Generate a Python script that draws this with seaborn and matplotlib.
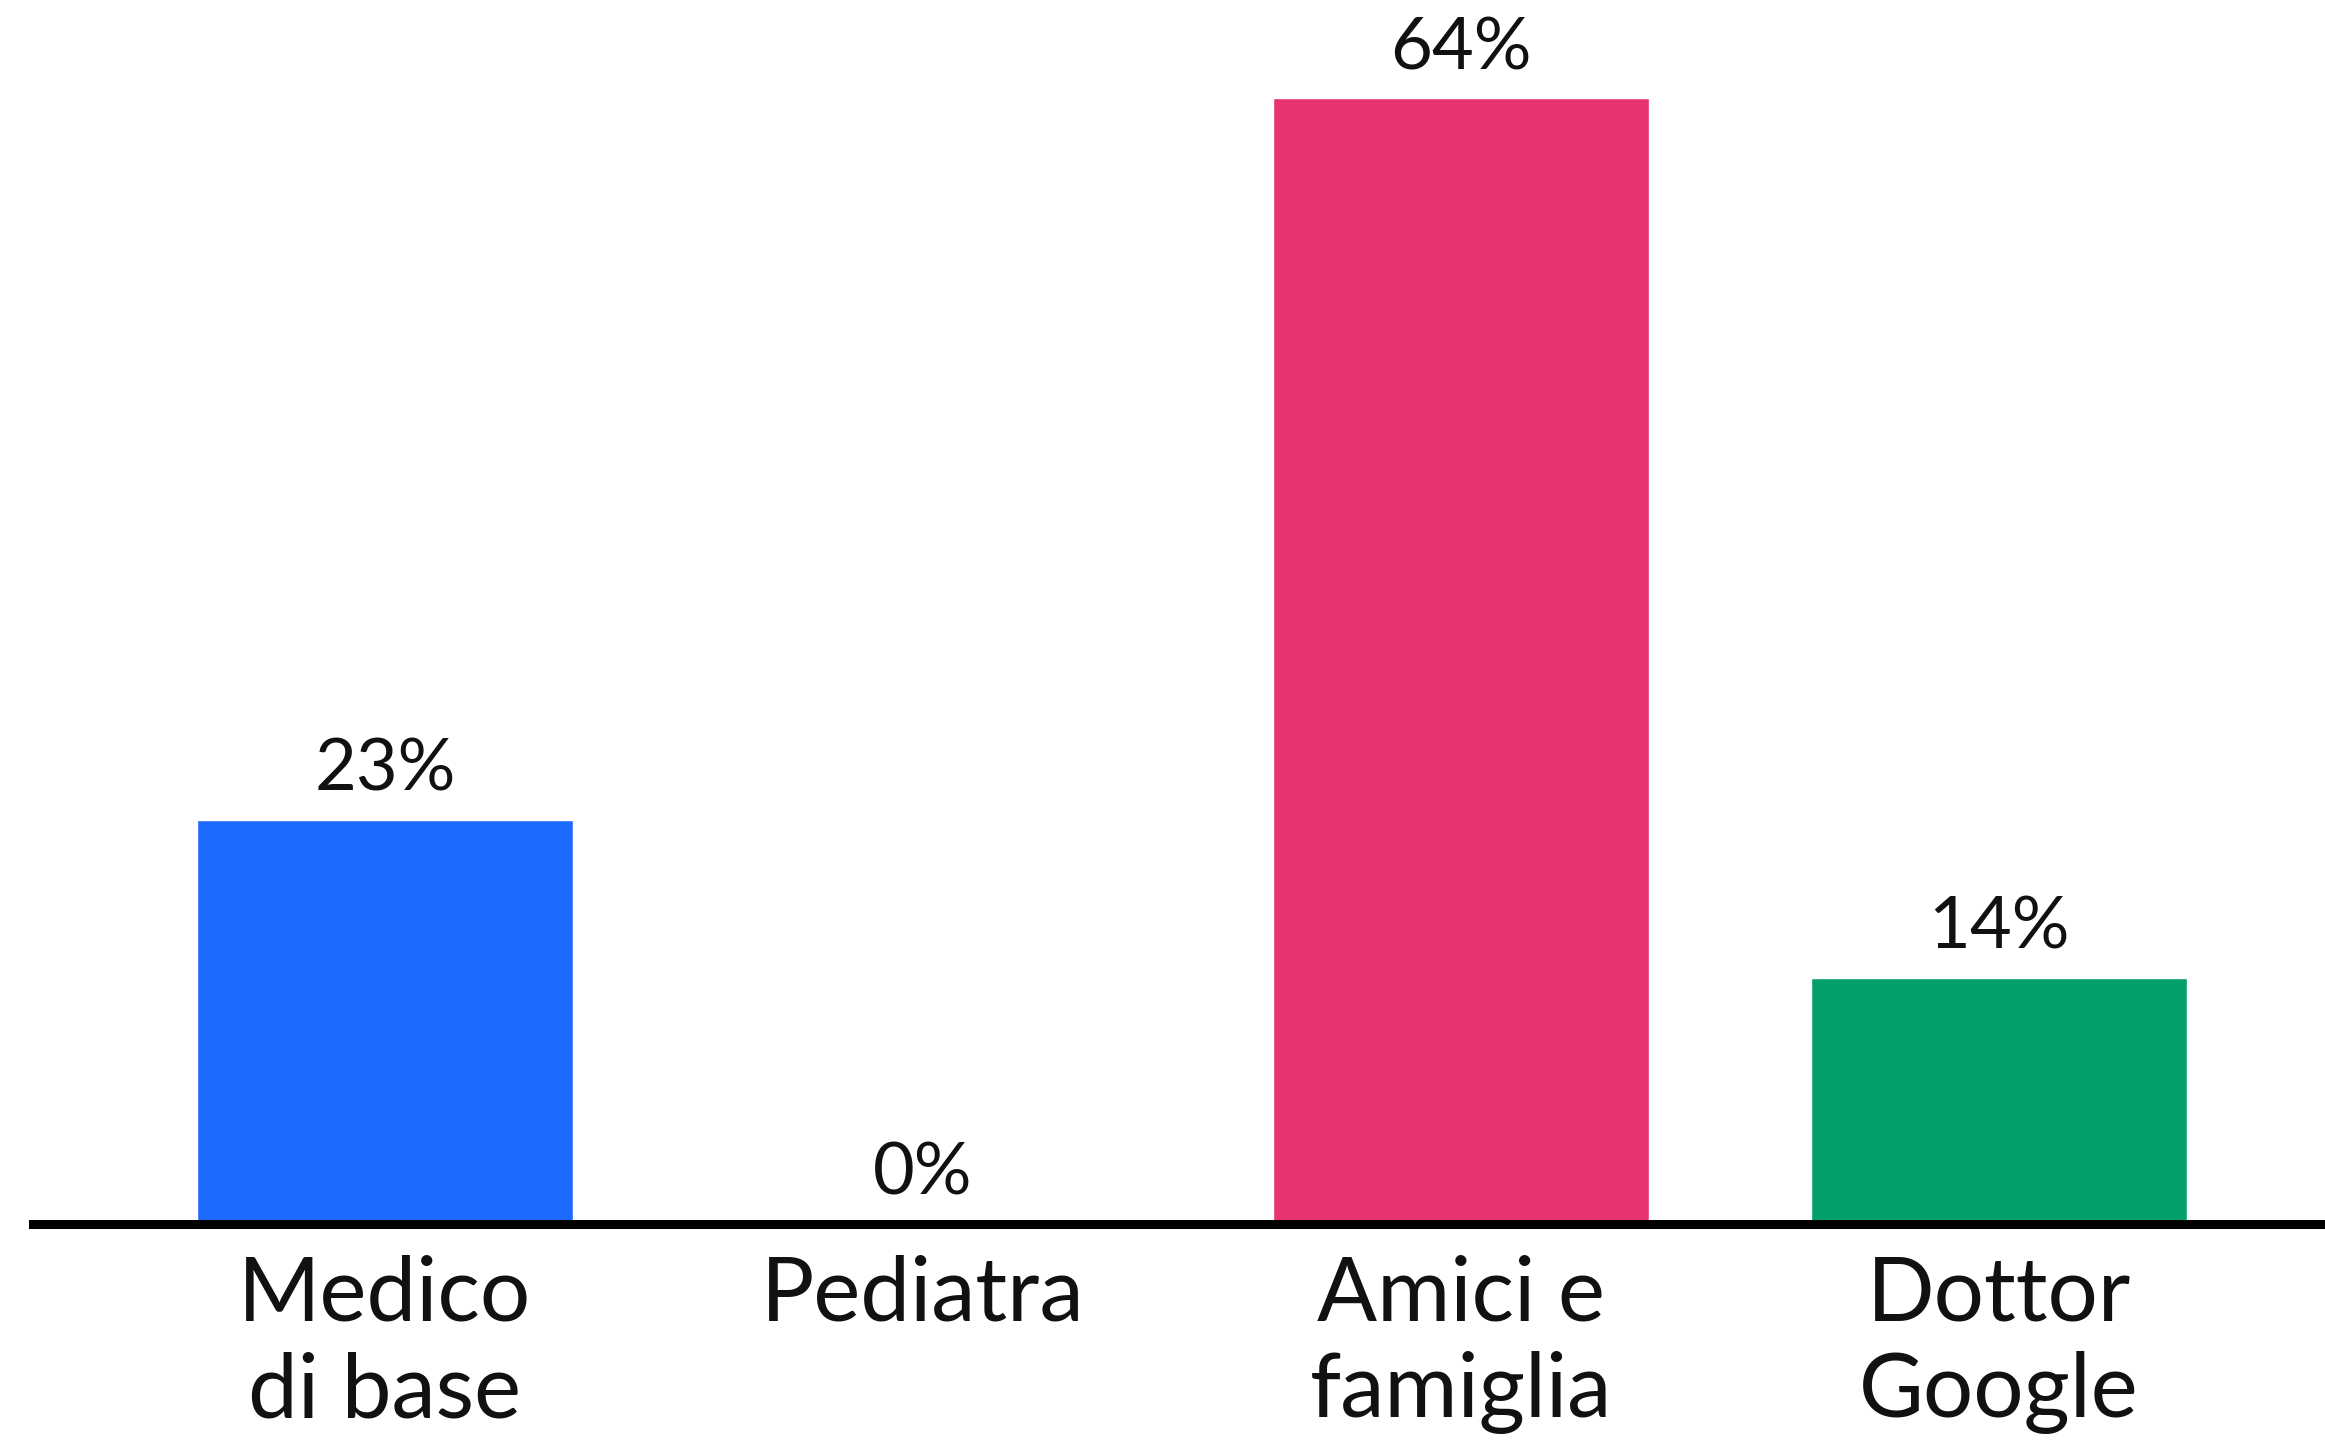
import matplotlib
matplotlib.use("Agg")
import matplotlib.pyplot as plt
import seaborn as sns
import pandas as pd

# Data
categories = ["Medico\ndi base", "Pediatra", "Amici e\nfamiglia", "Dottor\nGoogle"]
values = [23, 0, 64, 14]
colors = ["#1E6BFF", "#2E6BE0", "#E8336F", "#03A06C"]

df = pd.DataFrame({"categoria": categories, "valore": values})

sns.set_theme(style="white")
plt.rcParams["font.family"] = ["Lato", "DejaVu Sans"]

fig = plt.figure(figsize=(23.25, 14.41), dpi=100)
ax = fig.add_axes([33 / 2325, 1 - 1224 / 1441, 1 - 33 / 2325, 1224 / 1441])

sns.barplot(data=df, x="categoria", y="valore", hue="categoria",
            palette=colors, legend=False, width=0.7, saturation=1,
            ax=ax, zorder=1)

ax.set_xlim(-0.654, 3.606)
ax.set_ylim(0, 69.6)

# value labels above each bar
for i, v in enumerate(values):
    ax.annotate(f"{v}%", xy=(i, v), xytext=(0, 21), textcoords="offset points",
                ha="center", va="baseline", fontsize=52, color="#111111")

# axis styling: only the baseline remains
for side in ["top", "right", "left"]:
    ax.spines[side].set_visible(False)
ax.spines["bottom"].set_linewidth(6.5)
ax.spines["bottom"].set_color("#000000")
ax.spines["bottom"].set_zorder(3)
ax.set_yticks([])
ax.set_xlabel("")
ax.set_ylabel("")
ax.tick_params(axis="x", length=0, pad=22, labelsize=64, labelcolor="#111111")
for lbl in ax.get_xticklabels():
    lbl.set_linespacing(1.22)

fig.savefig("out.png", dpi=100, facecolor="white")
